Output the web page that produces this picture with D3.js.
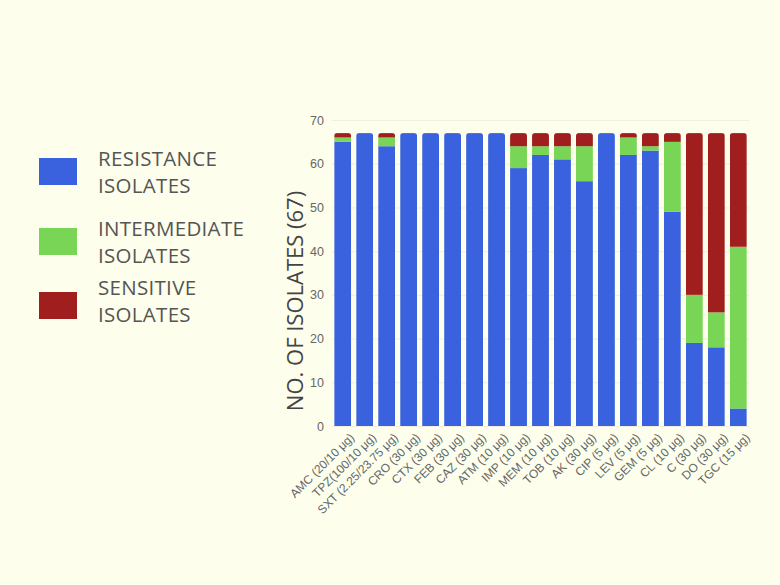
<!DOCTYPE html>
<html>
<head>
<meta charset="utf-8">
<script src="https://cdn.jsdelivr.net/npm/d3@7"></script>
<style>
  body { margin: 0; background: #fefeec; }
  svg { display: block; font-family: 'Open Sans', sans-serif; }
</style>
</head>
<body>
<svg class="bar_chart" width="780" height="585"></svg>
<script>
const antibiotics = ['AMC (20/10 μg)', 'TPZ(100/10 μg)', 'SXT (2.25/23.75 μg)', 'CRO (30 μg)', 'CTX (30 μg)',
    'FEB (30 μg)', 'CAZ (30 μg)', 'ATM (10 μg)', 'IMP (10 μg)', 'MEM (10 μg)', 'TOB (10 μg)', 'AK (30 μg)',
    'CIP (5 μg)', 'LEV (5 μg)', 'GEM (5 μg)', 'CL (10 μg)', 'C (30 μg)', 'DO (30 μg)', 'TGC (15 μg)'];
const resistance   = [65, 67, 64, 67, 67, 67, 67, 67, 59, 62, 61, 56, 67, 62, 63, 49, 19, 18, 4];
const intermediate = [1, 0, 2, 0, 0, 0, 0, 0, 5, 2, 3, 8, 0, 4, 1, 16, 11, 8, 37];
const sensitive    = [1, 0, 1, 0, 0, 0, 0, 0, 3, 3, 3, 3, 0, 1, 3, 2, 37, 41, 26];
const yTicks = [0, 10, 20, 30, 40, 50, 60, 70];

const seriesKeys = ['resistance', 'intermediate', 'sensitive'];
const seriesLabels = [['RESISTANCE', 'ISOLATES'], ['INTERMEDIATE', 'ISOLATES'], ['SENSITIVE', 'ISOLATES']];
const colors = ['#3a62de', '#78d556', '#a11e1f'];

const chart = d3.select('.bar_chart');
const margin = { left: 332, top: 120, right: 31, bottom: 159 };
const chartWidth = +chart.attr('width') - margin.left - margin.right;
const chartHeight = +chart.attr('height') - margin.top - margin.bottom;

const table = antibiotics.map((name, i) => ({
    name,
    resistance: resistance[i],
    intermediate: intermediate[i],
    sensitive: sensitive[i]
}));

const x = d3.scaleBand()
    .domain(antibiotics)
    .range([0, chartWidth])
    .paddingInner(0.23)
    .paddingOuter(0.1);

const y = d3.scaleLinear()
    .domain([0, 70])
    .range([chartHeight, 0]);

const g = chart.append('g')
    .attr('transform', `translate(${margin.left} ${margin.top})`);

// grid + y ticks
const yAxisG = g.append('g')
    .call(d3.axisLeft(y).tickValues(yTicks).tickSize(-chartWidth).tickPadding(8));
yAxisG.select('.domain').remove();
yAxisG.selectAll('line').attr('stroke', '#efefdc');
yAxisG.selectAll('text').attr('fill', '#666').style('font-size', '12.5px');

g.append('text')
    .attr('transform', `translate(-29, ${chartHeight / 2 + 28}) rotate(-90)`)
    .attr('text-anchor', 'middle')
    .attr('fill', '#444')
    .style('font-size', '22px')
    .text('NO. OF ISOLATES (67)');

// stacked bars with rounded tops
const stack = d3.stack().keys(seriesKeys)(table);
const r = 3;

const defs = chart.append('defs');
table.forEach((d, i) => {
    const total = d.resistance + d.intermediate + d.sensitive;
    defs.append('clipPath').attr('id', `clip${i}`)
        .append('rect')
        .attr('x', x(d.name))
        .attr('y', y(total))
        .attr('width', x.bandwidth())
        .attr('height', chartHeight - y(total) + r + 2)
        .attr('rx', r);
});

stack.forEach((layer, k) => {
    g.append('g')
        .attr('fill', colors[k])
        .selectAll('rect')
        .data(layer)
        .join('rect')
        .attr('clip-path', (d, i) => `url(#clip${i})`)
        .attr('x', d => x(d.data.name))
        .attr('y', d => y(d[1]))
        .attr('width', x.bandwidth())
        .attr('height', d => y(d[0]) - y(d[1]));
});

// x labels
const xAxisG = g.append('g')
    .attr('transform', `translate(0, ${chartHeight})`)
    .call(d3.axisBottom(x).tickSize(0).tickPadding(6));
xAxisG.select('.domain').remove();
xAxisG.selectAll('text')
    .attr('fill', '#666')
    .style('font-size', '12px')
    .attr('text-anchor', 'end')
    .attr('dy', '0.6em')
    .attr('transform', 'translate(3, 3) rotate(-45)');

// legend
const legend = chart.append('g').attr('transform', 'translate(39, 0)');
const legendY = [158, 228, 292];
const textY = [[166, 193], [236, 263], [295, 322]];
seriesLabels.forEach((lines, k) => {
    legend.append('rect')
        .attr('x', 0).attr('y', legendY[k])
        .attr('width', 38).attr('height', 27)
        .attr('fill', colors[k]);
    lines.forEach((t, j) => {
        legend.append('text')
            .attr('x', 59).attr('y', textY[k][j])
            .attr('fill', '#555')
            .style('font-size', '20.5px')
            .style('letter-spacing', '0.3px')
            .text(t);
    });
});
</script>
</body>
</html>
